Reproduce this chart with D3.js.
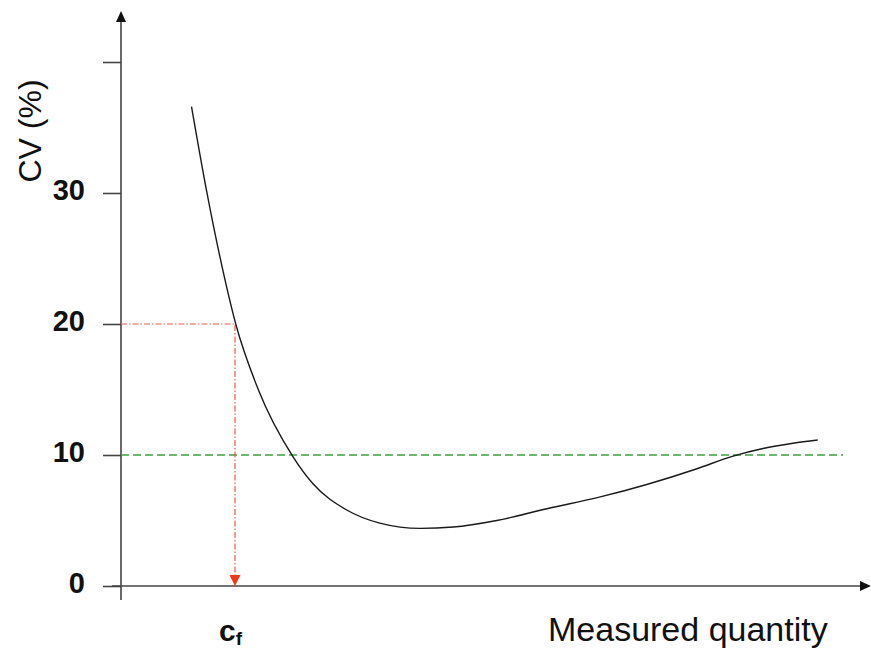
<!DOCTYPE html>
<html>
<head>
<meta charset="utf-8">
<script src="https://cdn.jsdelivr.net/npm/d3@7"></script>
<style>
	body { margin: 0; background: #fff; }
	svg { display: block; font-family: "Liberation Sans", Arial, sans-serif; }
</style>
</head>
<body>
<svg id="chart" width="871" height="649"></svg>
<script>
// curve (x in arbitrary units 0-100, y = CV %)
var curveX = [9.4, 11.4, 13.2, 15.3, 18.3, 22.9, 25.6, 30.1, 34.5, 39.9, 44.3, 50.1, 56.8, 63.9, 70.1, 76.8, 81.5, 85.6, 89.6, 92.9];
var curveY = [36.6, 30.2, 25.1, 20.0, 15.0, 9.9, 7.8, 5.8, 4.8, 4.4, 4.5, 5.0, 5.9, 6.8, 7.75, 8.95, 9.9, 10.5, 10.9, 11.15];

var yTicks = [0, 10, 20, 30, 40];
var yTickLabels = ["0", "10", "20", "30", ""];

var limitCV = 10;		// green dashed limit
var targetCV = 20;		// red dash-dot reading
var cfX = 15.2;			// c_f on the x axis

var svg = d3.select("#chart");

var x = d3.scaleLinear().domain([0, 100]).range([121, 871]);
var y = d3.scaleLinear().domain([0, 40]).range([586, 62]);

var axisColor = "#444";

// y axis with arrow
svg.append("line")
	.attr("x1", x(0)).attr("x2", x(0))
	.attr("y1", 600).attr("y2", 20)
	.attr("stroke", axisColor).attr("stroke-width", 1.6);
svg.append("path")
	.attr("d", "M" + x(0) + ",11 l-5,11 l10,0 z")
	.attr("fill", "#111");

// x axis with arrow
svg.append("line")
	.attr("x1", 112).attr("x2", 862)
	.attr("y1", y(0)).attr("y2", y(0))
	.attr("stroke", axisColor).attr("stroke-width", 1.6);
svg.append("path")
	.attr("d", "M871," + y(0) + " l-11,-5 l0,10 z")
	.attr("fill", "#111");

// ticks drawn with d3 axis, restyled
var yAxis = d3.axisLeft(y)
	.tickValues(yTicks)
	.tickSize(18)
	.tickPadding(18)
	.tickFormat(function(d, i) { return yTickLabels[i]; });

var gy = svg.append("g")
	.attr("transform", "translate(" + x(0) + ",0)")
	.call(yAxis);
gy.select(".domain").remove();
gy.selectAll(".tick line").attr("stroke", axisColor).attr("stroke-width", 1.6);
gy.selectAll(".tick text")
	.attr("fill", "#111")
	.attr("dy", "0.22em")
	.style("font-family", "'Liberation Sans', Arial, sans-serif")
	.style("font-size", "29px")
	.style("font-weight", "bold");

// green dashed limit line
svg.append("line")
	.attr("x1", x(0)).attr("x2", 843)
	.attr("y1", y(limitCV)).attr("y2", y(limitCV))
	.attr("stroke", "#3f9f3f").attr("stroke-width", 1.3)
	.attr("stroke-dasharray", "8,4");

// red dash-dot reading lines
svg.append("path")
	.attr("d", "M" + x(0) + "," + y(targetCV) + " H" + x(cfX) + " V" + (y(0) - 10))
	.attr("fill", "none")
	.attr("stroke", "#e0604c").attr("stroke-width", 1.2)
	.attr("stroke-dasharray", "6,2,1.5,2");
svg.append("path")
	.attr("d", "M" + x(cfX) + "," + y(0) + " l-5.5,-11 l11,0 z")
	.attr("fill", "#ee3a1a");

// curve
var pts = d3.zip(curveX, curveY);
var line = d3.line()
	.x(function(d) { return x(d[0]); })
	.y(function(d) { return y(d[1]); })
	.curve(d3.curveMonotoneX);

svg.append("path")
	.datum(pts)
	.attr("d", line)
	.attr("fill", "none")
	.attr("stroke", "#1a1a1a")
	.attr("stroke-width", 1.4);

// labels
svg.append("text")
	.attr("transform", "translate(41,131) rotate(-90)")
	.attr("text-anchor", "middle")
	.style("font-size", "32px")
	.attr("fill", "#111")
	.text("CV (%)");

var cf = svg.append("text")
	.attr("x", 219).attr("y", 641)
	.style("font-size", "30px")
	.style("font-weight", "bold")
	.attr("fill", "#111");
cf.append("tspan").text("c");
cf.append("tspan").attr("dy", 4).style("font-size", "19px").text("f");

svg.append("text")
	.attr("x", 548).attr("y", 641)
	.style("font-size", "34px")
	.attr("fill", "#111")
	.text("Measured quantity");
</script>
</body>
</html>
